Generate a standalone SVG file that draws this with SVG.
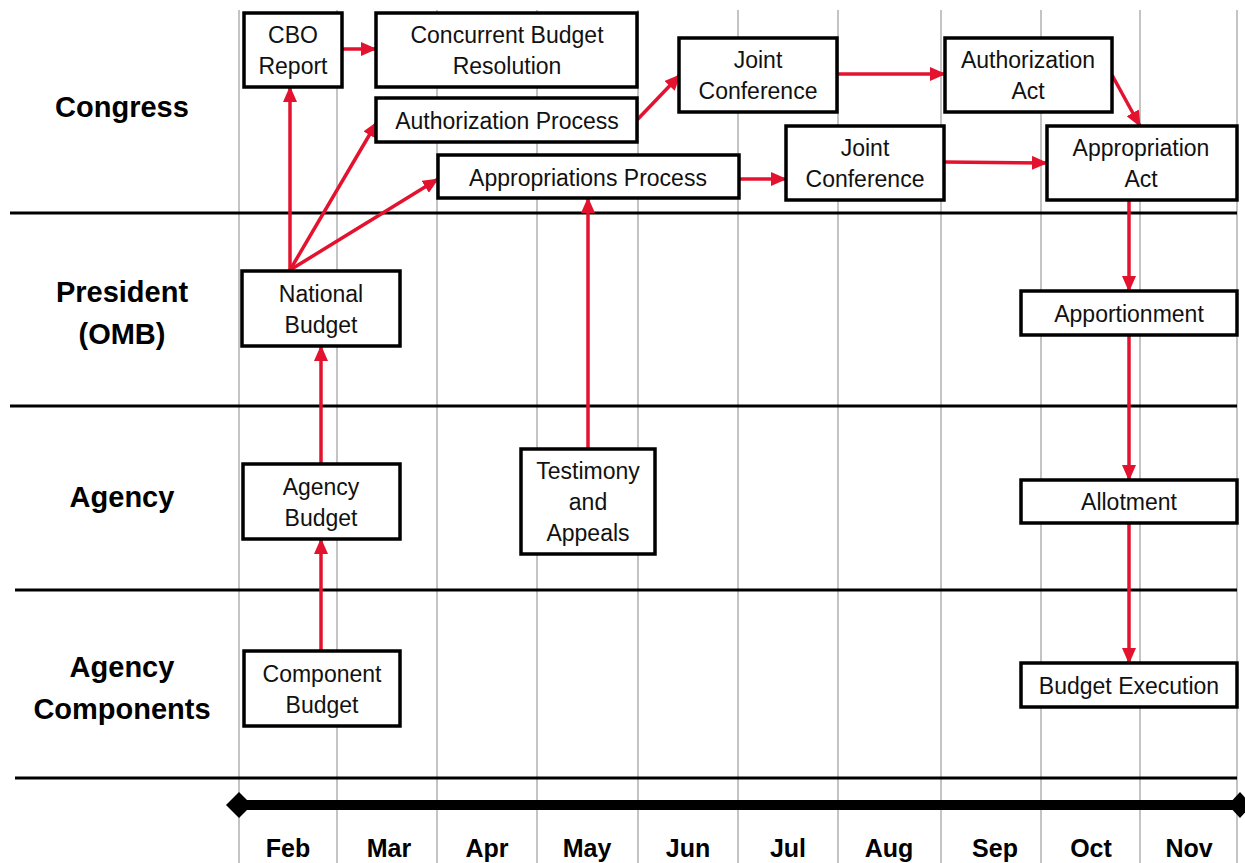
<svg xmlns="http://www.w3.org/2000/svg" width="1245" height="863" viewBox="0 0 1245 863">
<style>
.grid{stroke:#b0b0b0;stroke-width:1.5}
.sep{stroke:#000;stroke-width:3}
.box{fill:#fff;stroke:#000;stroke-width:3.5}
.t{font-family:"Liberation Sans",Arial,sans-serif;font-size:23px;fill:#111;text-anchor:middle}
.row{font-family:"Liberation Sans",Arial,sans-serif;font-size:29px;font-weight:bold;fill:#000;text-anchor:middle}
.mon{font-family:"Liberation Sans",Arial,sans-serif;font-size:25px;font-weight:bold;fill:#000;text-anchor:middle}
.arr{stroke:#e3132f;stroke-width:3.5;fill:none;marker-end:url(#ah)}
</style>
<defs>
<marker id="ah" markerUnits="userSpaceOnUse" markerWidth="16" markerHeight="14" refX="15" refY="7" orient="auto">
<path d="M0,0 L16,7 L0,14 Z" fill="#e3132f"/>
</marker>
</defs>
<rect width="1245" height="863" fill="#fff"/>
<g id="grid">
<line class="grid" x1="239" y1="10" x2="239" y2="863"/>
<line class="grid" x1="337" y1="10" x2="337" y2="863"/>
<line class="grid" x1="437" y1="10" x2="437" y2="863"/>
<line class="grid" x1="537" y1="10" x2="537" y2="863"/>
<line class="grid" x1="638" y1="10" x2="638" y2="863"/>
<line class="grid" x1="738" y1="10" x2="738" y2="863"/>
<line class="grid" x1="838" y1="10" x2="838" y2="863"/>
<line class="grid" x1="941" y1="10" x2="941" y2="863"/>
<line class="grid" x1="1041" y1="10" x2="1041" y2="863"/>
<line class="grid" x1="1140" y1="10" x2="1140" y2="863"/>
<line class="grid" x1="1237" y1="10" x2="1237" y2="863"/>
<line class="sep" x1="10" y1="213" x2="1237" y2="213"/>
<line class="sep" x1="10" y1="406" x2="1237" y2="406"/>
<line class="sep" x1="15" y1="590" x2="1237" y2="590"/>
<line class="sep" x1="15" y1="778" x2="1237" y2="778"/>
</g>
<g id="rows">
<text class="row" x="122" y="117">Congress</text>
<text class="row" x="122" y="302">President</text>
<text class="row" x="122" y="344">(OMB)</text>
<text class="row" x="122" y="507">Agency</text>
<text class="row" x="122" y="677">Agency</text>
<text class="row" x="122" y="719">Components</text>
</g>
<g id="timeline">
<rect x="239" y="800" width="1001" height="10" fill="#000"/>
<path d="M226,805 L239,792 L252,805 L239,818 Z" fill="#000"/>
<path d="M1228,805 L1240,792 L1252,805 L1240,818 Z" fill="#000"/>
<text class="mon" x="288" y="857">Feb</text>
<text class="mon" x="389" y="857">Mar</text>
<text class="mon" x="487" y="857">Apr</text>
<text class="mon" x="587" y="857">May</text>
<text class="mon" x="688" y="857">Jun</text>
<text class="mon" x="788" y="857">Jul</text>
<text class="mon" x="889" y="857">Aug</text>
<text class="mon" x="995" y="857">Sep</text>
<text class="mon" x="1091" y="857">Oct</text>
<text class="mon" x="1189" y="857">Nov</text>
</g>
<g id="connectors">
<line class="arr" x1="342" y1="49" x2="376" y2="49"/>
<line class="arr" x1="290" y1="270" x2="290" y2="87"/>
<line class="arr" x1="290" y1="270" x2="377" y2="122"/>
<line class="arr" x1="290" y1="270" x2="438" y2="179"/>
<line class="arr" x1="637" y1="120" x2="680" y2="75"/>
<line class="arr" x1="739" y1="179" x2="786" y2="179"/>
<line class="arr" x1="837" y1="74" x2="945" y2="74"/>
<line class="arr" x1="944" y1="162" x2="1047" y2="163"/>
<line class="arr" x1="1112" y1="75" x2="1140" y2="126"/>
<line class="arr" x1="588" y1="449" x2="588" y2="198"/>
<line class="arr" x1="321" y1="464" x2="321" y2="346"/>
<line class="arr" x1="321" y1="651" x2="321" y2="539"/>
<line class="arr" x1="1129" y1="200" x2="1129" y2="291"/>
<line class="arr" x1="1129" y1="335" x2="1129" y2="480"/>
<line class="arr" x1="1129" y1="523" x2="1129" y2="663"/>
</g>
<g id="cbo-report"><rect class="box" x="244" y="13" width="98" height="74"/><text class="t" x="293" y="43">CBO</text><text class="t" x="293" y="74">Report</text></g>
<g id="concurrent-budget"><rect class="box" x="376" y="13" width="261" height="74"/><text class="t" x="507" y="43">Concurrent Budget</text><text class="t" x="507" y="74">Resolution</text></g>
<g id="authorization-process"><rect class="box" x="376" y="98" width="261" height="44"/><text class="t" x="507" y="129">Authorization Process</text></g>
<g id="appropriations-process"><rect class="box" x="438" y="155" width="301" height="43"/><text class="t" x="588" y="186">Appropriations Process</text></g>
<g id="joint-conference-1"><rect class="box" x="679" y="38" width="158" height="74"/><text class="t" x="758" y="68">Joint</text><text class="t" x="758" y="99">Conference</text></g>
<g id="joint-conference-2"><rect class="box" x="786" y="126" width="158" height="74"/><text class="t" x="865" y="156">Joint</text><text class="t" x="865" y="187">Conference</text></g>
<g id="authorization-act"><rect class="box" x="945" y="38" width="167" height="74"/><text class="t" x="1028" y="68">Authorization</text><text class="t" x="1028" y="99">Act</text></g>
<g id="appropriation-act"><rect class="box" x="1047" y="126" width="190" height="74"/><text class="t" x="1141" y="156">Appropriation</text><text class="t" x="1141" y="187">Act</text></g>
<g id="national-budget"><rect class="box" x="242" y="271" width="158" height="75"/><text class="t" x="321" y="302">National</text><text class="t" x="321" y="333">Budget</text></g>
<g id="apportionment"><rect class="box" x="1021" y="291" width="216" height="44"/><text class="t" x="1129" y="322">Apportionment</text></g>
<g id="agency-budget"><rect class="box" x="243" y="464" width="157" height="75"/><text class="t" x="321" y="495">Agency</text><text class="t" x="321" y="526">Budget</text></g>
<g id="testimony-appeals"><rect class="box" x="521" y="449" width="134" height="105"/><text class="t" x="588" y="479">Testimony</text><text class="t" x="588" y="510">and</text><text class="t" x="588" y="541">Appeals</text></g>
<g id="allotment"><rect class="box" x="1021" y="480" width="216" height="43"/><text class="t" x="1129" y="510">Allotment</text></g>
<g id="component-budget"><rect class="box" x="244" y="651" width="156" height="75"/><text class="t" x="322" y="682">Component</text><text class="t" x="322" y="713">Budget</text></g>
<g id="budget-execution"><rect class="box" x="1021" y="663" width="216" height="44"/><text class="t" x="1129" y="694">Budget Execution</text></g>
</svg>
